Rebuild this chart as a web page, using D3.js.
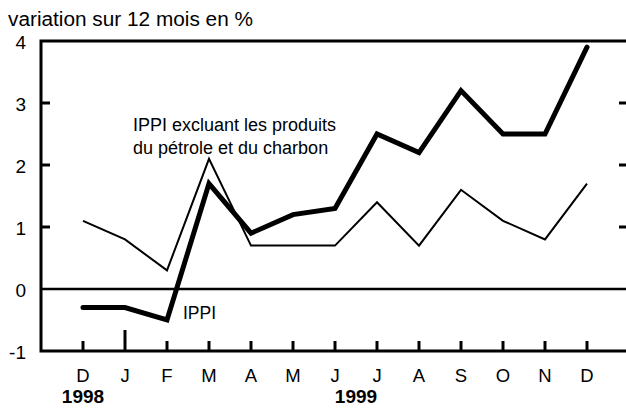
<!DOCTYPE html>
<html>
<head>
<meta charset="utf-8">
<script src="https://cdn.jsdelivr.net/npm/d3@7"></script>
<style>
  body { margin: 0; background: #fff; }
  svg { display: block; font-family: "Liberation Sans", Arial, sans-serif; }
</style>
</head>
<body>
<div id="chart"></div>
<script>
// months Dec 1998 .. Dec 1999
const months = ["D", "J", "F", "M", "A", "M", "J", "J", "A", "S", "O", "N", "D"];
const ippi = [-0.3, -0.3, -0.5, 1.7, 0.9, 1.2, 1.3, 2.5, 2.2, 3.2, 2.5, 2.5, 3.9];
const ippiExcl = [1.1, 0.8, 0.3, 2.1, 0.7, 0.7, 0.7, 1.4, 0.7, 1.6, 1.1, 0.8, 1.7];
const yTicks = [-1, 0, 1, 2, 3, 4];
const years = [{ label: "1998", at: 0 }, { label: "1999", at: 6.5 }];

const width = 626, height = 408;
let plotL = 41, plotR = 626, plotT = 41, plotB = 351;

let svg = d3.select("#chart").append("svg")
    .attr("width", width)
    .attr("height", height);

let x = d3.scaleLinear().domain([0, 12]).range([83, 587]);
let y = d3.scaleLinear().domain([-1, 4]).range([plotB, plotT]);

// title
svg.append("text")
    .attr("x", 8).attr("y", 26)
    .style("font-size", "19.5px")
    .attr("textLength", 245).attr("lengthAdjust", "spacingAndGlyphs")
    .text("variation sur 12 mois en %");

// y tick labels
svg.selectAll(".ylab")
    .data(yTicks)
    .enter().append("text")
        .attr("class", "ylab")
        .attr("x", 26)
        .attr("y", function(d) { return y(d); })
        .attr("dy", "0.4em")
        .attr("text-anchor", "end")
        .style("font-size", "19px")
        .text(function(d) { return d; });

// left/right tick marks
let inner = yTicks.filter(function(d) { return d > -1 && d < 4 && d !== 0; });
svg.selectAll(".ltick")
    .data(inner)
    .enter().append("line")
        .attr("x1", plotL).attr("x2", plotL + 9)
        .attr("y1", function(d) { return y(d); })
        .attr("y2", function(d) { return y(d); })
        .attr("stroke", "#000").attr("stroke-width", 3);
svg.selectAll(".rtick")
    .data(inner)
    .enter().append("line")
        .attr("x1", plotR - 7).attr("x2", plotR)
        .attr("y1", function(d) { return y(d); })
        .attr("y2", function(d) { return y(d); })
        .attr("stroke", "#000").attr("stroke-width", 3);

// frame: left, top, bottom, zero line
svg.append("path")
    .attr("d", "M" + plotR + "," + plotT + "H" + plotL + "V" + plotB + "H" + plotR)
    .attr("fill", "none").attr("stroke", "#000").attr("stroke-width", 3);
svg.append("line")
    .attr("x1", plotL).attr("x2", plotR)
    .attr("y1", y(0)).attr("y2", y(0))
    .attr("stroke", "#000").attr("stroke-width", 2.5);

// x ticks
svg.selectAll(".xtick")
    .data(months)
    .enter().append("line")
        .attr("x1", function(d, i) { return x(i); })
        .attr("x2", function(d, i) { return x(i); })
        .attr("y1", plotB)
        .attr("y2", function(d, i) { return i === 1 ? plotB - 21 : plotB - 10; })
        .attr("stroke", "#000").attr("stroke-width", 3);

svg.selectAll(".xlab")
    .data(months)
    .enter().append("text")
        .attr("x", function(d, i) { return x(i); })
        .attr("y", 382)
        .attr("text-anchor", "middle")
        .style("font-size", "18.5px")
        .text(function(d) { return d; });

svg.selectAll(".year")
    .data(years)
    .enter().append("text")
        .attr("x", function(d) { return x(d.at); })
        .attr("y", 403)
        .attr("text-anchor", "middle")
        .style("font-size", "19px")
        .style("font-weight", "bold")
        .text(function(d) { return d.label; });

let line = d3.line()
    .x(function(d, i) { return x(i); })
    .y(function(d) { return y(d); });

svg.append("path")
    .datum(ippiExcl)
    .attr("d", line)
    .attr("fill", "none").attr("stroke", "#000").attr("stroke-width", 2);

svg.append("path")
    .datum(ippi)
    .attr("d", line)
    .attr("fill", "none").attr("stroke", "#000").attr("stroke-width", 5)
    .attr("stroke-linejoin", "miter").attr("stroke-linecap", "round");

// annotations
svg.append("text")
    .attr("x", 133).attr("y", 131)
    .style("font-size", "18px")
    .text("IPPI excluant les produits");
svg.append("text")
    .attr("x", 133).attr("y", 154)
    .style("font-size", "18px")
    .text("du pétrole et du charbon");

svg.append("text")
    .attr("x", 183).attr("y", 319)
    .style("font-size", "17.5px")
    .text("IPPI");
</script>
</body>
</html>
